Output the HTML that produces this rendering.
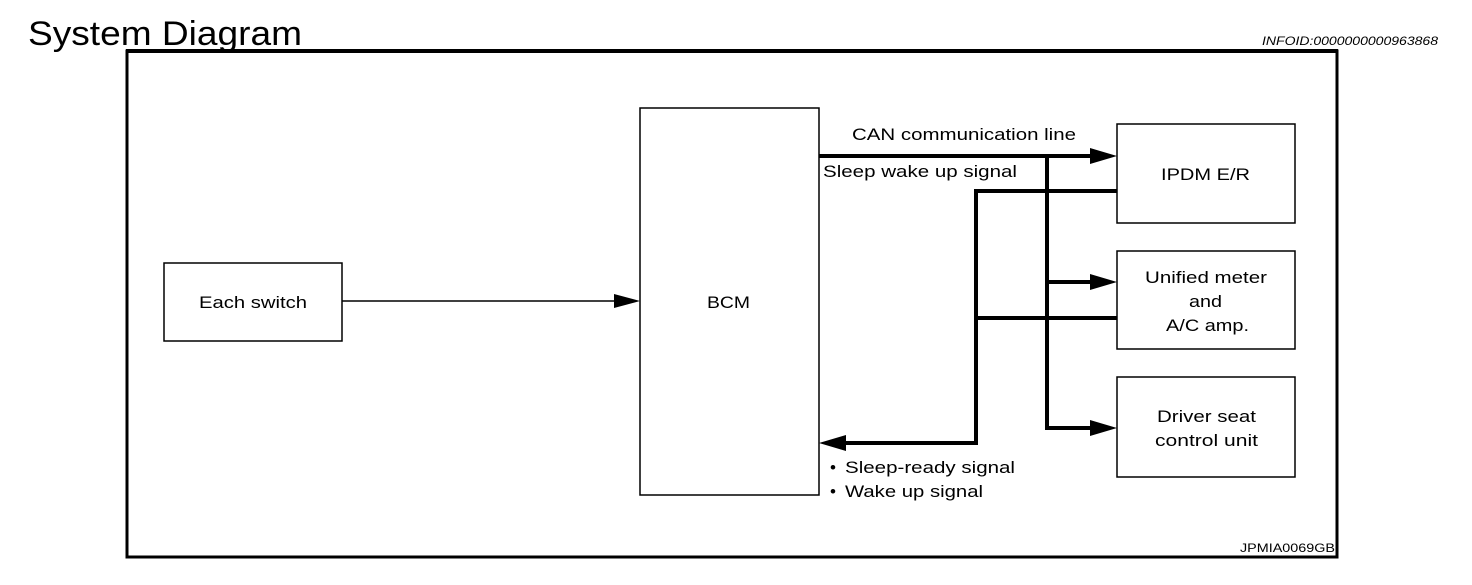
<!DOCTYPE html>
<html><head><style>
body{margin:0;background:#fff;width:1472px;height:580px;overflow:hidden}
svg text{font-family:"Liberation Sans",sans-serif;fill:#000}
</style></head><body>
<svg width="1472" height="580" viewBox="0 0 1472 580">
<text x="28" y="45" font-size="34" textLength="274" lengthAdjust="spacingAndGlyphs">System Diagram</text>
<text x="1262" y="45" font-size="12" font-style="italic" textLength="176" lengthAdjust="spacingAndGlyphs">INFOID:0000000000963868</text>
<rect x="127" y="51" width="1210" height="506" fill="none" stroke="#000" stroke-width="3"/>
<line x1="126" y1="51" x2="1338" y2="51" stroke="#000" stroke-width="4"/>
<text x="1240" y="552" font-size="12" textLength="95" lengthAdjust="spacingAndGlyphs">JPMIA0069GB</text>
<g fill="none" stroke="#000" stroke-width="1.5">
<rect x="164" y="263" width="178" height="78"/>
<rect x="640" y="108" width="179" height="387"/>
<rect x="1117" y="124" width="178" height="99"/>
<rect x="1117" y="251" width="178" height="98"/>
<rect x="1117" y="377" width="178" height="100"/>
<line x1="342" y1="301" x2="618" y2="301"/>
</g>
<polygon points="614,294 640,301 614,308" fill="#000"/>
<g fill="none" stroke="#000" stroke-width="4">
<line x1="819" y1="156" x2="1092" y2="156"/>
<polyline points="1047,156 1047,428 1092,428"/>
<line x1="1047" y1="282" x2="1092" y2="282"/>
<polyline points="1117,191 976,191 976,443 845,443"/>
<line x1="976" y1="318" x2="1117" y2="318"/>
</g>
<polygon points="1090,148 1117,156 1090,164" fill="#000"/>
<polygon points="1090,274 1117,282 1090,290" fill="#000"/>
<polygon points="1090,420 1117,428 1090,436" fill="#000"/>
<polygon points="846,435 819,443 846,451" fill="#000"/>
<g font-size="17">
<text x="199" y="308" textLength="108" lengthAdjust="spacingAndGlyphs">Each switch</text>
<text x="707" y="308" textLength="43" lengthAdjust="spacingAndGlyphs">BCM</text>
<text x="852" y="140" textLength="224" lengthAdjust="spacingAndGlyphs">CAN communication line</text>
<text x="823" y="177" textLength="194" lengthAdjust="spacingAndGlyphs">Sleep wake up signal</text>
<text x="1161" y="180" textLength="89" lengthAdjust="spacingAndGlyphs">IPDM E/R</text>
<text x="1145" y="283" textLength="122" lengthAdjust="spacingAndGlyphs">Unified meter</text>
<text x="1189" y="307" textLength="33" lengthAdjust="spacingAndGlyphs">and</text>
<text x="1166" y="331" textLength="83" lengthAdjust="spacingAndGlyphs">A/C amp.</text>
<text x="1157" y="422" textLength="99" lengthAdjust="spacingAndGlyphs">Driver seat</text>
<text x="1155" y="446" textLength="103" lengthAdjust="spacingAndGlyphs">control unit</text>
<text x="830" y="473">•</text>
<text x="845" y="473" textLength="170" lengthAdjust="spacingAndGlyphs">Sleep-ready signal</text>
<text x="830" y="497">•</text>
<text x="845" y="497" textLength="138" lengthAdjust="spacingAndGlyphs">Wake up signal</text>
</g>
</svg>
</body></html>
